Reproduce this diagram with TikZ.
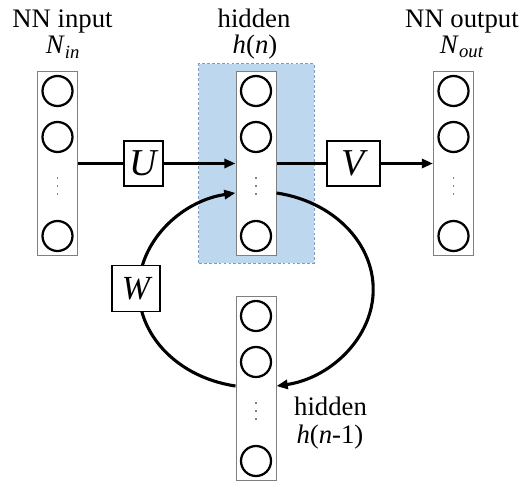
\documentclass[tikz,border=0pt]{standalone}
\usepackage{fontspec}
\setmainfont{Liberation Serif}
\usepackage{tikz}
\usetikzlibrary{arrows.meta,positioning,calc}
\definecolor{hidblue}{HTML}{BDD7EE}
\definecolor{hidedge}{HTML}{7C9CC4}
\definecolor{colgray}{HTML}{7F7F7F}
\newcommand{\coldot}{\hbox{\rule{1.3pt}{1.3pt}}}
\newcommand{\coldots}{\vbox{\offinterlineskip\coldot\vskip4.4pt\coldot\vskip4.4pt\coldot}}

\begin{document}
\begin{tikzpicture}[x=0.025cm,y=0.025cm,>={Triangle[length=8pt,width=6.5pt]}]
  \tikzset{netcol/.style={draw=colgray,line width=0.7pt,fill=white,minimum width=1cm,minimum height=4.575cm,inner sep=0pt},
    neuron/.style={circle,draw=black,line width=1.6pt,minimum size=0.75cm,inner sep=0pt},
    dotcol/.style={text=colgray,inner sep=0pt},
    wbox/.style={draw=black,line width=1.4pt,fill=white,minimum height=1.125cm,inner sep=0pt,font=\fontsize{27}{30}\selectfont\itshape},
    flow/.style={line width=2.2pt},
    lbl/.style={font=\fontsize{19}{22}\selectfont,anchor=base,inner sep=0pt}}

  \useasboundingbox (0,0) rectangle (531,482);

  \node[draw=hidedge,dash pattern=on 2pt off 1.5pt,fill=hidblue,line width=0.7pt,minimum width=2.875cm,minimum height=4.975cm] (hidbg) at (256.5,318.5) {};

  \node[lbl] (inlbl) at (62.5,454) {NN input};
  \node[lbl] (inname) at (63,428) {\textit{N}\textsubscript{\textit{in}}};
  \node[lbl] (hidlbl) at (254,454) {hidden};
  \node[lbl] (hidname) at (255,428) {\textit{h}(\textit{n})};
  \node[lbl] (outlbl) at (462,454) {NN output};
  \node[lbl] (outname) at (462,428) {\textit{N}\textsubscript{\textit{out}}};
  \node[lbl] (prevlbl) at (330.5,67) {hidden};
  \node[lbl] (prevname) at (330,39) {\textit{h}(\textit{n}-1)};

  \node[netcol] (in) at (57.5,318.5) {};
  \node[neuron] (in1) at ($(in)+(0,72.5)$) {};
  \node[neuron] (in2) at ($(in)+(0,26.5)$) {};
  \node[dotcol] (in3) at ($(in)+(0,-22.5)$) {\coldots};
  \node[neuron] (in4) at ($(in)+(0,-72.5)$) {};

  \node[netcol] (hid) at (256,318.5) {};
  \node[neuron] (hid1) at ($(hid)+(0,72.5)$) {};
  \node[neuron] (hid2) at ($(hid)+(0,26.5)$) {};
  \node[dotcol] (hid3) at ($(hid)+(0,-22.5)$) {\coldots};
  \node[neuron] (hid4) at ($(hid)+(0,-72.5)$) {};

  \node[netcol] (out) at (453.5,318.5) {};
  \node[neuron] (out1) at ($(out)+(0,72.5)$) {};
  \node[neuron] (out2) at ($(out)+(0,26.5)$) {};
  \node[dotcol] (out3) at ($(out)+(0,-22.5)$) {\coldots};
  \node[neuron] (out4) at ($(out)+(0,-72.5)$) {};

  \node[netcol] (prev) at (256,93.5) {};
  \node[neuron] (prev1) at ($(prev)+(0,72.5)$) {};
  \node[neuron] (prev2) at ($(prev)+(0,26.5)$) {};
  \node[dotcol] (prev3) at ($(prev)+(0,-22.5)$) {\coldots};
  \node[neuron] (prev4) at ($(prev)+(0,-72.5)$) {};

  \node[wbox,minimum width=0.975cm] (U) at (143.5,318.5) {U};
  \node[wbox,minimum width=1.325cm] (V) at (353.5,318.5) {V};

  \draw[flow] (in) -- (U);
  \draw[flow,->] (U) -- (hid);
  \draw[flow] (hid) -- (V);
  \draw[flow,->] (V) -- (out);

  % recurrent loop
  \draw[flow,->] ($(hid.east)+(0,-29.5)$) arc[start angle=80,end angle=-80,x radius=2.925cm,y radius=2.45cm];
  \draw[flow,->] ($(prev.west)+(0,2.5)$) arc[start angle=260,end angle=100,x radius=2.925cm,y radius=2.45cm];

  \node[wbox,minimum width=1.2cm,minimum height=1.15cm,font=\fontsize{24}{28}\selectfont\itshape] (W) at (136,193.5) {W};
\end{tikzpicture}
\end{document}
